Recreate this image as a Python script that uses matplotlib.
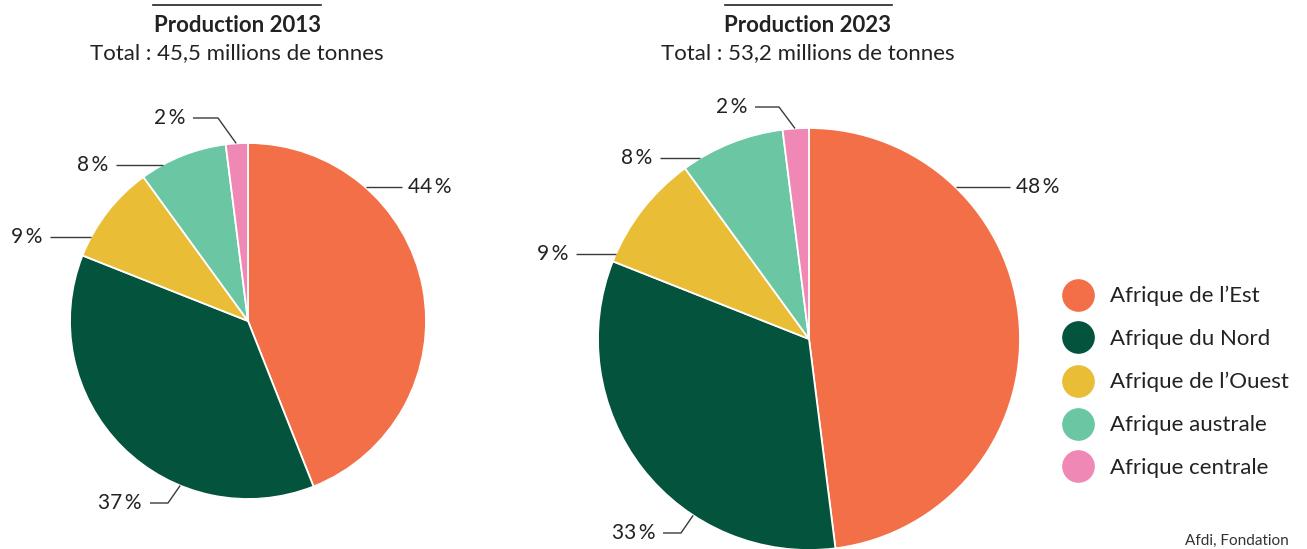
import matplotlib.pyplot as plt
from matplotlib.lines import Line2D
import numpy as np

plt.rcParams['font.family'] = ['Lato', 'DejaVu Sans']

# data
regions = ["Afrique de l\u2019Est", "Afrique du Nord", "Afrique de l\u2019Ouest",
           "Afrique australe", "Afrique centrale"]
colors = ['#F26F47', '#04533D', '#E9BD36', '#6AC6A3', '#EF88B4']
years = ['2013', '2023']
totals = ['45,5', '53,2']
shares_2013 = [44, 37, 9, 8, 2]
shares_2023 = [48, 33, 9, 8, 2]

W, H = 1307, 549
fig = plt.figure(figsize=(W / 100, H / 100), dpi=100)
ax = fig.add_axes([0, 0, 1, 1])

# pie layout in pixels (y downwards)
pies = [
    dict(shares=shares_2013, center=(248, 321), r=178, title_x=237,
         # anchor angle on rim, elbow point, end of line x, side
         leaders=[(48.6, None, 402, 'r'),
                  (247.6, (168, 503), 150, 'l'),
                  (151.8, None, 50, 'l'),
                  (118.6, None, 116, 'l'),
                  (93.8, (218, 118), 193, 'l')]),
    dict(shares=shares_2023, center=(809, 339), r=211, title_x=808,
         leaders=[(46.0, None, 1010, 'r'),
                  (236.7, (681, 533), 663, 'l'),
                  (156.2, None, 576, 'l'),
                  (121.0, None, 660, 'l'),
                  (93.8, (779, 107), 755, 'l')]),
]

for p, year, tot in zip(pies, years, totals):
    cx, cy = p['center']
    r = p['r']
    # y axis inverted -> start at data angle -90 (top), counterclock for visual clockwise
    ax.pie(p['shares'], colors=colors, center=(cx, cy), radius=r,
           startangle=-90, counterclock=True,
           wedgeprops=dict(edgecolor='white', linewidth=1.3))
    for val, (ang, elbow, xend, side) in zip(p['shares'], p['leaders']):
        a = np.radians(ang)
        x0 = cx + r * np.cos(a)
        y0 = cy - r * np.sin(a)
        if elbow is None:
            xs, ys = [x0, xend], [y0, y0]
            ytxt = y0
        else:
            xs, ys = [x0, elbow[0], xend], [y0, elbow[1], elbow[1]]
            ytxt = elbow[1]
        ax.plot(xs, ys, color='#3a3a3a', lw=1.0, solid_capstyle='butt')
        if side == 'r':
            ax.text(xend + 6, ytxt, f'{val}\u2009%', ha='left', va='center',
                    fontsize=15, color='#222222')
        else:
            ax.text(xend - 8, ytxt, f'{val}\u2009%', ha='right', va='center',
                    fontsize=15, color='#222222')

    tx = p['title_x']
    ax.text(tx, 25, f'Production {year}', ha='center', va='center',
            fontsize=16, fontweight='bold', color='#222222')
    ax.text(tx, 53, f'Total : {tot} millions de tonnes', ha='center', va='center',
            fontsize=16, color='#222222')

# rules above titles
ax.plot([153, 321], [5, 5], color='#222222', lw=1.2)
ax.plot([725, 892], [5, 5], color='#222222', lw=1.2)

ax.set_xlim(0, W)
ax.set_ylim(H, 0)
ax.set_aspect('auto')
ax.axis('off')

handles = [Line2D([], [], marker='o', ls='', markersize=22.5, color=c) for c in colors]
fig.legend(handles, regions, loc='upper left',
           bbox_to_anchor=(1061 / W, 1 - 286 / H), frameon=False,
           fontsize=16, handlelength=1.5, handletextpad=0.72,
           labelspacing=1.03, borderpad=0, borderaxespad=0,
           labelcolor='#222222')

ax.text(1185, 548, 'Afdi, Fondation', ha='left', va='bottom', fontsize=11,
        color='#333333')

fig.savefig('out.png', dpi=100)
